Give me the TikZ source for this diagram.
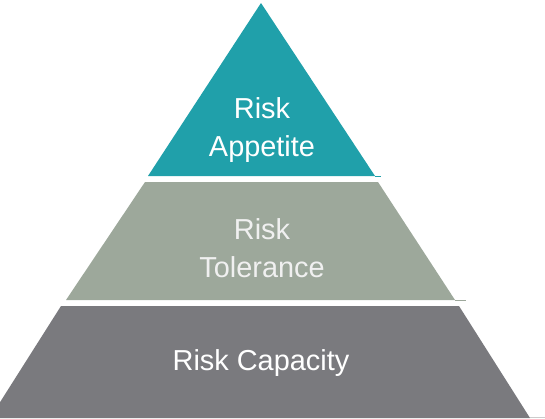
\documentclass[tikz,border=0pt]{standalone}
\usepackage{fontspec}
\setmainfont{Liberation Sans}
\usepackage{xcolor}
\usepackage{tikz}

\definecolor{appetite}{HTML}{20A0AA}
\definecolor{tolerance}{HTML}{9DA89B}
\definecolor{capacity}{HTML}{7A7A7E}

\begin{document}
\begin{tikzpicture}[
		x=1bp, y=-1bp,
		every node/.style={text=white, font=\fontsize{29}{38}\selectfont, align=center, inner sep=0pt},
		tail/.style={line width=0.8bp},
		label appetite/.style={},
		label tolerance/.style={text=white!94!black}
		]

	% Page
	\useasboundingbox (0, 0) rectangle (545, 418);
	\fill[white] (0, 0) rectangle (545, 418);
	\clip (0, 0) rectangle (545, 418);

	% Top: appetite
	\fill[appetite] (261, 3) -- (148, 176) -- (375, 176) -- cycle;
	\draw[tail, appetite] (375, 176) -- (381, 176);
	\node[label appetite] (appetite) at (262, 130) {Risk\\Appetite};

	% Middle: tolerance
	\fill[tolerance] (145, 182) -- (378, 182) -- (455, 300) -- (66, 300) -- cycle;
	\draw[tail, tolerance] (455, 300) -- (466, 300);
	\node[label tolerance] (tolerance) at (262, 248) {Risk\\Tolerance};

	% Bottom: capacity
	\fill[capacity] (61, 306) -- (459, 306) -- (530, 418) -- (-10, 418) -- cycle;
	\draw[tail, black!20] (530, 417.5) -- (545, 417.5);
	\node (capacity) at (261, 363) {Risk Capacity};

\end{tikzpicture}
\end{document}
